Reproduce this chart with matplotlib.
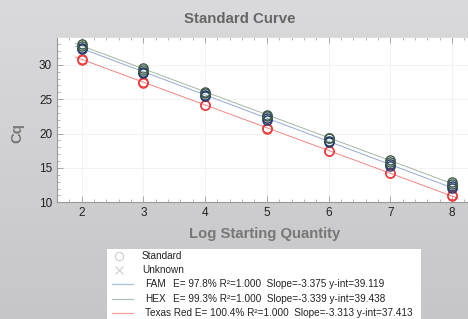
import numpy as np
import matplotlib
matplotlib.use("Agg")
import matplotlib.pyplot as plt
from matplotlib.ticker import MultipleLocator
from matplotlib.colors import LinearSegmentedColormap

plt.rcParams['font.family'] = ['Liberation Sans', 'DejaVu Sans']

# ---------------- data ----------------
log_qty = [2, 2, 3, 3, 4, 4, 5, 5, 6, 6, 7, 7, 8, 8]
cq_fam = [32.5, 32.3, 29.0, 28.8, 25.6, 25.4, 22.2, 22.0, 18.9, 18.7, 15.5, 15.3, 12.3, 12.1]
cq_hex = [33.0, 32.8, 29.5, 29.3, 26.1, 25.9, 22.7, 22.5, 19.4, 19.3, 16.1, 15.9, 12.9, 12.7]
cq_tr = [30.9, 30.7, 27.5, 27.3, 24.2, 24.1, 20.8, 20.7, 17.5, 17.4, 14.3, 14.2, 11.0, 10.9]

dyes = ["FAM", "HEX", "Texas Red"]
efficiency = ["97.8%", "99.3%", "100.4%"]
r_squared = ["1.000", "1.000", "1.000"]
slopes = [-3.375, -3.339, -3.313]
intercepts = [39.119, 39.438, 37.413]
fit_range = [1.9, 8.1]

x_ticks = [2, 3, 4, 5, 6, 7, 8]
y_ticks = [10, 15, 20, 25, 30]

# ---------------- style ----------------
marker_colors = ["#22386a", "#3e5a48", "#ee3a3a"]
line_colors = ["#93aad2", "#a3b8a3", "#f28585"]
legend_line_colors = ["#a9c2dc", "#a9c4b2", "#f6a0a0"]

W, H = 468, 319
fig = plt.figure(figsize=(W / 100, H / 100), dpi=100)

# gradient background
bg = fig.add_axes([0, 0, 1, 1], zorder=-10)
grad = np.linspace(0, 1, 256).reshape(-1, 1)
cmap = LinearSegmentedColormap.from_list("bg", ["#dadadc", "#c6c6c8"])
bg.imshow(grad, aspect="auto", cmap=cmap, extent=[0, 1, 0, 1], origin="upper")
bg.set_axis_off()

ax = fig.add_axes([57 / W, 1 - 202.3 / H, 1 - 57 / W, (202.3 - 37.3) / H])
ax.set_facecolor("white")
ax.set_xlim(1.6, 8.26)
ax.set_ylim(10, 34)

series = [cq_fam, cq_hex, cq_tr]
xf = np.array(fit_range)
for i in range(3):
    ax.plot(xf, slopes[i] * xf + intercepts[i], color=line_colors[i], lw=0.7, zorder=2)
for i in [2, 0, 1]:
    ax.plot(log_qty, series[i], ls="none", marker="o", ms=6.6, mfc="none",
            mec=marker_colors[i], mew=1.0, zorder=3)

ax.set_xticks(x_ticks)
ax.set_yticks(y_ticks)
ax.xaxis.set_minor_locator(MultipleLocator(0.2))
ax.yaxis.set_minor_locator(MultipleLocator(1))
ax.tick_params(which="both", direction="in", colors="#999999", labelcolor="#222222",
               labelsize=8.5, top=True)
ax.tick_params(which="major", length=4, width=0.6)
ax.tick_params(which="minor", length=2.5, width=0.5)
ax.grid(True, which="major", color="#f0f0f0", lw=0.6)
for s in ["left", "bottom"]:
    ax.spines[s].set_color("#999999")
    ax.spines[s].set_linewidth(0.8)
ax.spines["top"].set_color("#dddddd")
ax.spines["right"].set_visible(False)

fig.text(240 / W, 1 - 19 / H, "Standard Curve", ha="center", va="center",
         fontsize=10.8, fontweight="bold", color="#666666")
fig.text(265 / W, 1 - 234 / H, "Log Starting Quantity", ha="center", va="center",
         fontsize=10.7, fontweight="bold", color="#777777")
fig.text(17 / W, 1 - 133 / H, "Cq", ha="center", va="center", rotation=90,
         fontsize=10.7, fontweight="bold", color="#777777")

# ---------------- legend ----------------
lx0, lx1, ly0 = 107, 421, 249
lg = fig.add_axes([lx0 / W, 0, (lx1 - lx0) / W, (H - ly0) / H])
lg.set_facecolor("white")
lg.set_xlim(lx0, lx1)
lg.set_ylim(H, ly0)
lg.set_xticks([])
lg.set_yticks([])
for s in lg.spines.values():
    s.set_visible(False)

fs = 7.2
row_y = [255.7, 270, 284.3, 298.6, 313]
lg.plot([119], [row_y[0]], marker="o", ms=6, mfc="none", mec="#cccccc", mew=0.8)
lg.text(142, row_y[0], "Standard", va="center", fontsize=fs, color="#222222")
lg.plot([119], [row_y[1]], marker="x", ms=6, mec="#cccccc", mew=0.8)
lg.text(142, row_y[1], "Unknown", va="center", fontsize=fs, color="#222222")
for i, name in enumerate(dyes):
    y = row_y[2 + i]
    lg.plot([112, 133], [y, y], color=legend_line_colors[i], lw=0.9)
    stats = f"E= {efficiency[i]} R\u00b2={r_squared[i]}  Slope={slopes[i]:.3f} y-int={intercepts[i]:.3f}"
    if len(name) <= 3:
        lg.text(145, y, name, va="center", fontsize=fs, color="#222222")
        lg.text(173, y, stats, va="center", fontsize=fs, color="#222222")
    else:
        lg.text(145, y, name + " " + stats, va="center", fontsize=fs, color="#222222")

fig.savefig("out.png", dpi=100)
